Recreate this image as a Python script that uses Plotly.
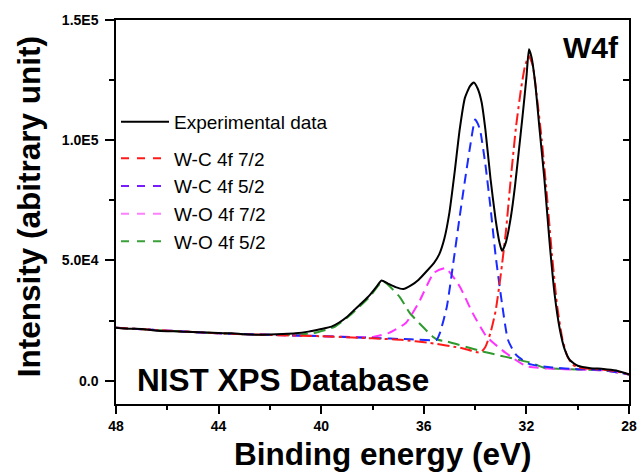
import plotly.graph_objects as go

# ---------------- data ----------------
exp_E = [48.0, 47.5, 47.0, 46.5, 46.0, 45.5, 45.0, 44.5, 44.0, 43.5, 43.0, 42.5, 42.0, 41.5,
         41.0, 40.5, 40.0, 39.6, 39.3, 39.0, 38.7, 38.4, 38.1, 37.85, 37.65, 37.4, 37.1, 36.8,
         36.5, 36.2, 35.9, 35.6, 35.4, 35.2, 35.0, 34.8, 34.6, 34.4, 34.2, 34.05, 33.9, 33.75,
         33.6, 33.4, 33.2, 33.05, 32.95, 32.8, 32.6, 32.45, 32.3, 32.15, 32.0, 31.9, 31.8,
         31.65, 31.5, 31.3, 31.1, 30.9, 30.7, 30.5, 30.3, 30.0, 29.5, 29.0, 28.5, 28.0]
exp_I = [22000, 21600, 21500, 20900, 20600, 20500, 20200, 20000, 19800, 19700, 19300, 19100,
         19200, 19400, 19700, 20400, 21500, 22500, 24200, 26500, 29500, 32500, 35700, 39000,
         41700, 40400, 38900, 38100, 39600, 42000, 45400, 49000, 52500, 59000, 70000, 86500,
         104500, 117500, 122500, 124000, 121500, 116000, 104500, 84000, 67000, 57500, 54000,
         57500, 68500, 80500, 95000, 110000, 126000, 137800, 134500, 123000, 106000, 84000,
         58000, 36000, 21500, 12800, 8500, 6200, 5200, 4900, 4200, 2600]

wc72_E = [48.0, 46.0, 44.0, 42.0, 40.0, 38.0, 36.9, 35.75, 34.5, 33.8, 33.6, 33.4, 33.2, 33.0,
          32.8, 32.6, 32.4, 32.2, 32.05, 31.9, 31.75, 31.6, 31.4, 31.2, 31.0, 30.8, 30.6, 30.4,
          30.2, 30.0, 29.5, 29.0, 28.5, 28.0]
wc72_I = [22000, 20800, 19700, 19000, 18500, 17600, 17000, 15700, 13500, 11700, 14000, 19900,
          29000, 44000, 62000, 85000, 106000, 122000, 131000, 135000, 131000, 119000, 100000,
          77000, 52000, 31000, 17500, 10000, 6800, 5500, 4900, 4500, 3900, 2600]

wc52_E = [48.0, 44.0, 40.0, 38.1, 36.5, 35.5, 35.37, 35.1, 34.85, 34.6, 34.4, 34.2, 34.0, 33.9,
          33.8, 33.6, 33.4, 33.2, 32.95, 32.72, 32.4, 31.9, 31.0, 30.0, 29.0, 28.0]
wc52_I = [22000, 19700, 18500, 17800, 17200, 17000, 19900, 30800, 49000, 68300, 83000, 97000,
          108600, 107000, 104000, 90000, 72000, 52000, 32000, 17000, 10700, 7000, 5500, 4800,
          4400, 2600]

wo72_E = [48.0, 44.0, 40.0, 38.0, 37.35, 36.7, 36.2, 35.6, 35.15, 34.6, 34.1, 33.55, 32.8, 32.0,
          31.0, 30.0, 29.0, 28.0]
wo72_I = [22000, 19700, 18500, 18200, 19900, 24000, 32400, 44900, 46800, 39200, 28200, 18300,
          11500, 6000, 5000, 4600, 4300, 2600]

wo52_E = [48.0, 46.0, 44.0, 42.0, 41.0, 40.3, 39.5, 38.9, 38.1, 37.6, 36.95, 36.55, 36.05, 35.65,
          35.45, 35.1, 33.7, 32.85, 31.8, 31.3, 30.0, 29.0, 28.0]
wo52_I = [22000, 20800, 19700, 19000, 19200, 19800, 22300, 27000, 35000, 41300, 35000, 28200,
          22500, 18300, 17000, 16300, 12100, 10000, 7400, 5300, 4700, 4300, 2600]

series_names = ["Experimental data", "W-C 4f 7/2", "W-C 4f 5/2", "W-O 4f 7/2", "W-O 4f 5/2"]
x_ticks = [48, 44, 40, 36, 32, 28]
y_tickvals = [0, 50000, 100000, 150000]
y_ticktext = ["0.0", "5.0E4", "1.0E5", "1.5E5"]
y_minor = [25000, 75000, 125000]
y_right_ticks = [0, 25000, 50000, 75000, 100000, 125000, 150000]

# ---------------- figure ----------------
FONT = "Arial, Liberation Sans, sans-serif"
fig = go.Figure()

curve_colors = ["#000000", "#ff1a1a", "#1a2bff", "#ff33ff", "#2e9a2e"]
legend_colors = ["#000000", "#ff1a1a", "#7a1aff", "#ff80ff", "#3aa03a"]
curve_dash = ["solid", "12px,4px,3px,4px", "10px,6px", "10px,6px", "12px,6px"]
data_sets = [(exp_E, exp_I), (wc72_E, wc72_I), (wc52_E, wc52_I), (wo72_E, wo72_I), (wo52_E, wo52_I)]

order = [4, 3, 2, 1, 0]
for i in order:
    xe, yi = data_sets[i]
    fig.add_trace(go.Scatter(x=xe, y=yi, mode="lines", showlegend=False,
                             line=dict(color=curve_colors[i], width=2, dash=curve_dash[i],
                                       shape="spline", smoothing=0.5),
                             hoverinfo="skip"))

# legend-only entries
for i in range(5):
    fig.add_trace(go.Scatter(x=[None], y=[None], mode="lines", name=series_names[i],
                             legend="legend" if i == 0 else "legend2",
                             line=dict(color=legend_colors[i], width=2,
                                       dash="solid" if i == 0 else "8px,8px")))

# invisible trace for right axis ticks
fig.add_trace(go.Scatter(x=[None], y=[None], yaxis="y2", showlegend=False, hoverinfo="skip"))

axis_font = dict(family=FONT, size=14, color="#000000", weight="bold")
title_font = dict(family=FONT, size=31.5, color="#000000", weight="bold")

fig.update_layout(
    width=640, height=475,
    margin=dict(l=116, r=11, t=20, b=71),
    paper_bgcolor="white", plot_bgcolor="white",
    font=dict(family=FONT, color="#000000"),
    xaxis=dict(range=[48, 28], tickmode="array", tickvals=x_ticks, automargin=False,
               ticks="outside", ticklen=8, tickwidth=1.5, tickcolor="#000",
               showline=True, linecolor="#000", linewidth=1.5, mirror=True,
               showgrid=False, zeroline=False, tickfont=axis_font,
               minor=dict(ticks="outside", dtick=2, tick0=28, ticklen=4, tickwidth=1.5,
                          tickcolor="#000", showgrid=False)),
    yaxis=dict(range=[-9700, 150000], tickmode="array", tickvals=y_tickvals, automargin=False,
               ticktext=y_ticktext, ticks="outside", ticklen=9, tickwidth=1.5,
               tickcolor="#000", showline=True, linecolor="#000", linewidth=1.5,
               showgrid=False, zeroline=False, tickfont=axis_font, ticklabelstandoff=4,
               minor=dict(ticks="outside", tickvals=y_minor, ticklen=5, tickwidth=1.5,
                          tickcolor="#000", showgrid=False)),
    yaxis2=dict(range=[-9700, 150000], overlaying="y", side="right", tickmode="array",
                tickvals=y_right_ticks, showticklabels=False, ticks="inside", ticklen=6,
                tickwidth=1.5, tickcolor="#000", showline=True, linecolor="#000",
                linewidth=1.5, showgrid=False, zeroline=False, automargin=False),
    legend=dict(x=0.0, y=0.784, xanchor="left", yanchor="top", bgcolor="rgba(0,0,0,0)",
                font=dict(family=FONT, size=19, color="#000"), itemwidth=48,
                tracegroupgap=0),
    legend2=dict(x=0.0, y=0.689, xanchor="left", yanchor="top", bgcolor="rgba(0,0,0,0)",
                 font=dict(family=FONT, size=19, color="#000"), itemwidth=48,
                 tracegroupgap=0),
    annotations=[
        dict(text="Binding energy (eV)", x=0.521, y=-0.130, xref="paper", yref="paper",
             xanchor="center", yanchor="middle", showarrow=False, font=title_font),
        dict(text="Intensity (abitrary unit)", x=-0.1696, y=0.515, xref="paper",
             yref="paper", xanchor="center", yanchor="middle", textangle=-90,
             showarrow=False, font=title_font),
        dict(text="W4f", x=0.9845, y=0.9276, xref="paper", yref="paper", xanchor="right",
             yanchor="middle", showarrow=False,
             font=dict(family=FONT, size=30, color="#000", weight="bold")),
        dict(text="NIST XPS Database", x=0.3265, y=0.0625, xref="paper", yref="paper",
             xanchor="center", yanchor="middle", showarrow=False,
             font=dict(family=FONT, size=31.5, color="#000", weight="bold")),
    ],
    showlegend=True,
)

fig.write_html("out.html")
